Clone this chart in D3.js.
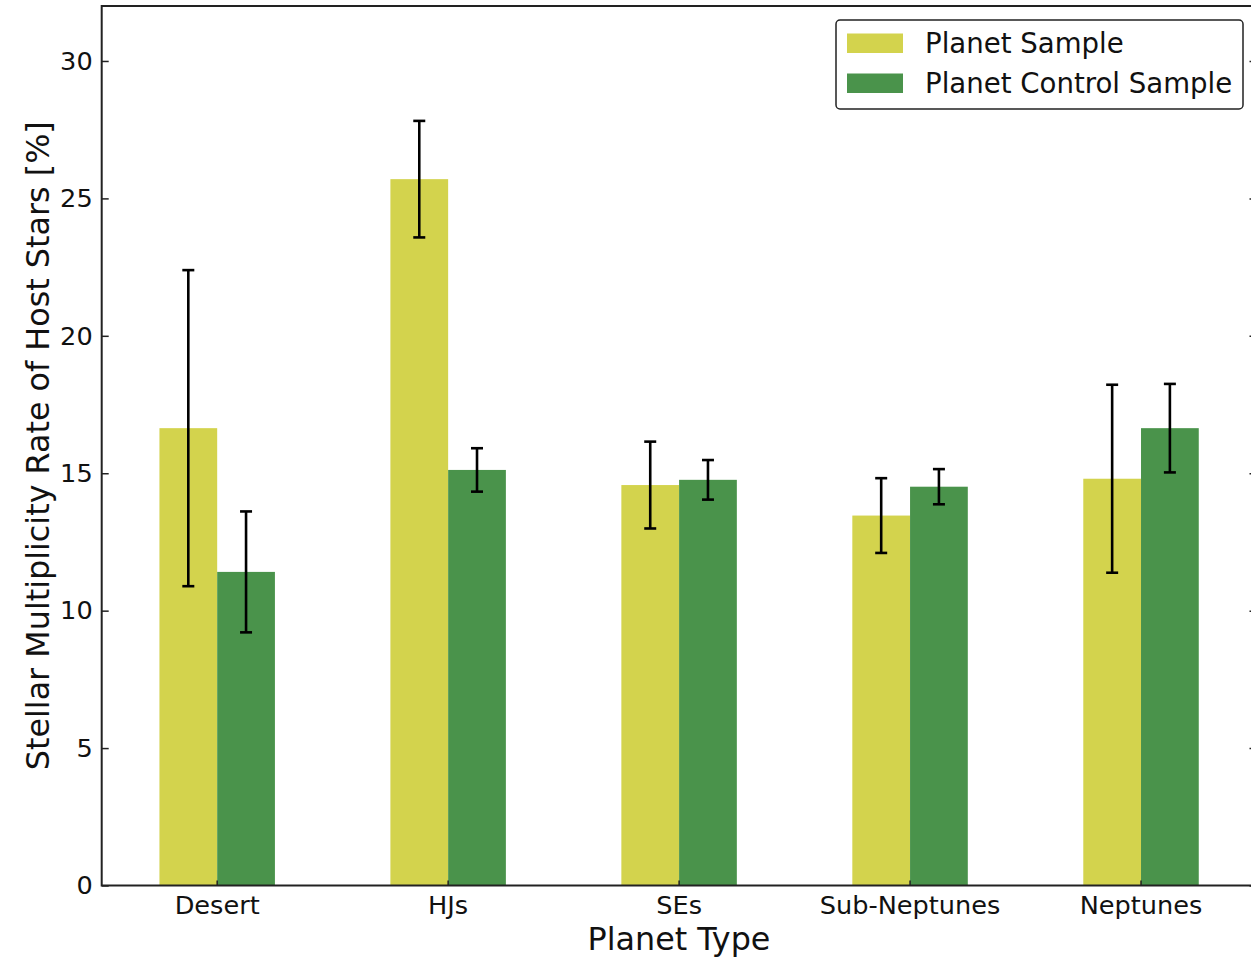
<!DOCTYPE html>
<html>
<head>
<meta charset="utf-8">
<script src="https://cdn.jsdelivr.net/npm/d3@7"></script>
<style>
  html, body { margin: 0; padding: 0; background: #fff; }
  svg { display: block; font-family: "DejaVu Sans", sans-serif; }
</style>
</head>
<body>
<svg id="chart" width="1251" height="960"></svg>
<script>
// Planet types along the x axis
const categories = ["Desert", "HJs", "SEs", "Sub-Neptunes", "Neptunes"];

// Stellar multiplicity rate (%) and 1-sigma uncertainties
const planetSample = [16.64, 25.70, 14.57, 13.46, 14.80];
const planetSampleErr = [5.75, 2.12, 1.58, 1.36, 3.42];
const controlSample = [11.41, 15.12, 14.76, 14.51, 16.64];
const controlSampleErr = [2.20, 0.79, 0.72, 0.64, 1.61];

const seriesNames = ["Planet Sample", "Planet Control Sample"];
const seriesColors = ["#d3d34d", "#4a934b"];
const yTicks = [0, 5, 10, 15, 20, 25, 30];

const svg = d3.select("#chart");
const plotLeft = 101.7, plotRight = 1256.5, plotTop = 6, plotBottom = 885.5;

const x = d3.scaleBand().domain(categories).range([plotLeft, plotRight]).paddingInner(0).paddingOuter(0);
const y = d3.scaleLinear().domain([0, 32]).range([plotBottom, plotTop]);
const barW = x.step() * 0.25;

const series = [
  { name: seriesNames[0], values: planetSample, errs: planetSampleErr, color: seriesColors[0], offset: -0.5 },
  { name: seriesNames[1], values: controlSample, errs: controlSampleErr, color: seriesColors[1], offset: 0.5 }
];

// Bars
series.forEach(s => {
  const cx = (c) => x(c) + x.bandwidth() / 2 + s.offset * barW;
  svg.append("g").selectAll("rect")
    .data(categories)
    .join("rect")
    .attr("x", (c) => cx(c) - barW / 2)
    .attr("width", barW)
    .attr("y", (c, i) => y(s.values[i]))
    .attr("height", (c, i) => y(0) - y(s.values[i]))
    .attr("fill", s.color);
});

// Error bars
series.forEach(s => {
  const cx = (c) => x(c) + x.bandwidth() / 2 + s.offset * barW;
  const g = svg.append("g").attr("stroke", "#000").attr("stroke-width", 2.6);
  categories.forEach((c, i) => {
    const hi = y(s.values[i] + s.errs[i]);
    const lo = y(s.values[i] - s.errs[i]);
    const xc = cx(c);
    g.append("line").attr("x1", xc).attr("x2", xc).attr("y1", hi).attr("y2", lo);
    g.append("line").attr("x1", xc - 6).attr("x2", xc + 6).attr("y1", hi).attr("y2", hi);
    g.append("line").attr("x1", xc - 6).attr("x2", xc + 6).attr("y1", lo).attr("y2", lo);
  });
});

// Axes with inward ticks
const yAxisL = d3.axisLeft(y).tickValues(yTicks).tickSizeInner(-7).tickSizeOuter(0).tickPadding(9);
const gyl = svg.append("g").attr("transform", `translate(${plotLeft},0)`).call(yAxisL);
gyl.select(".domain").remove();
gyl.selectAll("text").attr("font-size", 25.6).attr("fill", "#111").attr("font-family", "DejaVu Sans");
gyl.selectAll("line").attr("stroke", "#222").attr("stroke-width", 1.5);

const yAxisR = d3.axisRight(y).tickValues(yTicks).tickSizeInner(-7).tickSizeOuter(0).tickFormat("");
const gyr = svg.append("g").attr("transform", `translate(${plotRight},0)`).call(yAxisR);
gyr.select(".domain").remove();
gyr.selectAll("line").attr("stroke", "#222").attr("stroke-width", 1.5);

const xAxis = d3.axisBottom(x).tickSizeInner(-5).tickSizeOuter(0).tickPadding(10);
const gx = svg.append("g").attr("transform", `translate(0,${plotBottom})`).call(xAxis);
gx.select(".domain").remove();
gx.selectAll("text").attr("font-size", 25.6).attr("fill", "#111").attr("font-family", "DejaVu Sans");
gx.selectAll("line").attr("stroke", "#222").attr("stroke-width", 1.5);

// Frame
svg.append("rect")
  .attr("x", plotLeft).attr("y", plotTop)
  .attr("width", plotRight - plotLeft).attr("height", plotBottom - plotTop)
  .attr("fill", "none").attr("stroke", "#222").attr("stroke-width", 2);

// Axis titles
svg.append("text")
  .attr("x", 679).attr("y", 950)
  .attr("text-anchor", "middle").attr("font-size", 31.8).attr("fill", "#111")
  .text("Planet Type");

svg.append("text")
  .attr("transform", `translate(49,${(plotTop + plotBottom) / 2}) rotate(-90)`)
  .attr("text-anchor", "middle").attr("font-size", 31.8).attr("fill", "#111")
  .text("Stellar Multiplicity Rate of Host Stars [%]");

// Legend
const legend = svg.append("g").attr("transform", "translate(836,20)");
legend.append("rect")
  .attr("width", 407).attr("height", 89).attr("rx", 4)
  .attr("fill", "#fff").attr("stroke", "#222").attr("stroke-width", 1.5);
series.forEach((s, i) => {
  legend.append("rect")
    .attr("x", 11).attr("y", 13.5 + i * 40).attr("width", 56).attr("height", 19.5)
    .attr("fill", s.color);
  legend.append("text")
    .attr("x", 89).attr("y", 23 + i * 40).attr("dy", "0.35em")
    .attr("font-size", 27.6).attr("fill", "#111")
    .text(s.name);
});
</script>
</body>
</html>
